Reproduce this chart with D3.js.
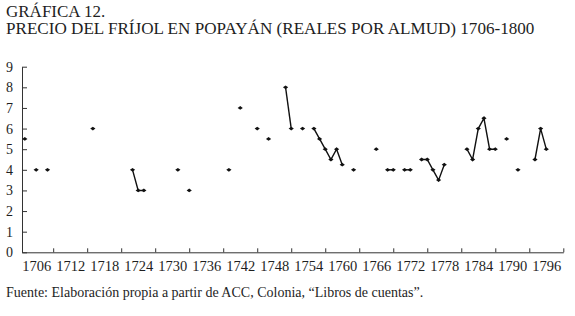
<!DOCTYPE html>
<html>
<head>
<meta charset="utf-8">
<script src="https://cdn.jsdelivr.net/npm/d3@7"></script>
<style>
  body { margin: 0; background: #fff; }
  svg text { font-family: "Liberation Serif", "Times New Roman", "DejaVu Serif", serif; fill: #1e1e1e; }
  .axis path, .axis line { stroke: #333; stroke-width: 1; }
</style>
</head>
<body>
<div id="chart"></div>
<script>
// years with a recorded price and the price in reales por almud
const years  = [1704, 1706, 1708, 1716, 1723, 1724, 1725, 1731, 1733, 1740, 1742, 1745, 1747,
                1750, 1751, 1753, 1755, 1756, 1757, 1758, 1759, 1760, 1762, 1766, 1768, 1769,
                1771, 1772, 1774, 1775, 1776, 1777, 1778, 1782, 1783, 1784, 1785, 1786, 1787,
                1789, 1791, 1794, 1795, 1796];
const prices = [5.5, 4, 4, 6, 4, 3, 3, 4, 3, 4, 7, 6, 5.5,
                8, 6, 6, 6, 5.5, 5, 4.5, 5, 4.25, 4, 5, 4, 4,
                4, 4, 4.5, 4.5, 4, 3.5, 4.25, 5, 4.5, 6, 6.5, 5, 5,
                5.5, 4, 4.5, 6, 5];
const tickYears  = [1709, 1715, 1721, 1727, 1733, 1739, 1745, 1751, 1757, 1763, 1769, 1775, 1781, 1787, 1793, 1799];
const labelYears = [1706, 1712, 1718, 1724, 1730, 1736, 1742, 1748, 1754, 1760, 1766, 1772, 1778, 1784, 1790, 1796];

let width = 575,
    height = 316;

const svg = d3.select("#chart")
  .append("svg")
  .attr("width", width)
  .attr("height", height);

let x = d3.scaleLinear()
  .domain([1703.5, 1799])
  .range([22, 563.3]);

let y = d3.scaleLinear()
  .domain([0, 9])
  .range([252.3, 66.7]);

// titles
svg.append("text")
  .attr("x", 6).attr("y", 16.7)
  .attr("font-size", "17px")
  .text("GRÁFICA 12.");

svg.append("text")
  .attr("x", 6).attr("y", 34.3)
  .attr("font-size", "17.1px")
  .text("PRECIO DEL FRÍJOL EN POPAYÁN (REALES POR ALMUD) 1706-1800");

// y axis, ticks point inward
svg.append("g")
  .attr("class", "axis")
  .attr("transform", `translate(${x.range()[0]},0)`)
  .call(d3.axisLeft(y)
    .ticks(9)
    .tickSize(-5)
    .tickSizeOuter(0)
    .tickPadding(9))
  .call(g => g.selectAll("text").attr("font-size", "14px"));

// x axis line + tick marks between labels
svg.append("g")
  .attr("class", "axis")
  .attr("transform", `translate(0,${y(0)})`)
  .call(d3.axisBottom(x)
    .tickValues(tickYears)
    .tickSize(-4)
    .tickSizeOuter(0)
    .tickFormat(""));

// x labels
svg.append("g")
  .attr("class", "axis")
  .attr("transform", `translate(0,${y(0)})`)
  .call(d3.axisBottom(x)
    .tickValues(labelYears)
    .tickSize(0)
    .tickPadding(8)
    .tickFormat(d3.format("d")))
  .call(g => g.select(".domain").remove())
  .call(g => g.selectAll("text").attr("font-size", "14.5px"));

// split into runs of consecutive years
let points = years.map((yr, i) => ({ year: yr, value: prices[i] }));
let runs = [];
points.forEach((p, i) => {
  if (i > 0 && p.year - points[i - 1].year === 1) runs[runs.length - 1].push(p);
  else runs.push([p]);
});

let line = d3.line()
  .x(d => x(d.year))
  .y(d => y(d.value));

svg.append("g")
  .selectAll("path")
  .data(runs.filter(r => r.length > 1))
  .join("path")
  .attr("fill", "none")
  .attr("stroke", "#111")
  .attr("stroke-width", 1.4)
  .attr("d", line);

// small diamond markers
svg.append("g")
  .selectAll("path")
  .data(points)
  .join("path")
  .attr("transform", d => `translate(${x(d.year)},${y(d.value)})`)
  .attr("d", "M-2.6,0L0,-1.9L2.6,0L0,1.9Z")
  .attr("fill", "#111");

// source note
svg.append("text")
  .attr("x", 6).attr("y", 297)
  .attr("font-size", "14px")
  .text("Fuente: Elaboración propia a partir de ACC, Colonia, “Libros de cuentas”.");
</script>
</body>
</html>
